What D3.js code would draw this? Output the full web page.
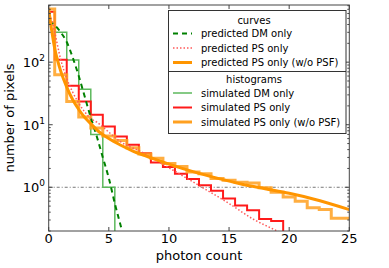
<!DOCTYPE html>
<html>
<head>
<meta charset="utf-8">
<script src="https://cdn.jsdelivr.net/npm/d3@7"></script>
<style>
  body { margin: 0; background: #fff; }
  text { font-family: "DejaVu Sans", sans-serif; fill: #000; }
</style>
</head>
<body>
<svg id="chart" width="389" height="268"></svg>
<script>
// histogram counts, one value per bin centred on 0,1,2,...
const greenHist = [430, 300, 108, 37, 7, 1, 0];
const redHist = [640, 109, 42, 23.5, 14.4, 9.4, 6.5, 4.8, 3.5, 2.5, 2.1, 1.65, 1.35, 1.08, 0.88, 0.66, 0.51, 0.43, 0.31, 0.29, 0];
const orangeHist = [710, 63, 23.5, 13.3, 8.9, 6.6, 5.6, 4.3, 3.4, 2.9, 2.4, 2.15, 1.75, 1.65, 1.38, 1.3, 1.2, 1.17, 0.98, 0.83, 0.70, 0.60, 0.47, 0.44, 0.32, 0.32];

// predicted curves
const dmX = [0, 0.5, 1, 1.5, 2, 2.5, 3, 3.5, 4, 4.5, 5, 5.5, 6.1, 6.6];
const dmY = [440, 390, 300, 210, 118, 60, 28, 13, 6.5, 3.0, 1.4, 0.55, 0.2, 0.08];
const psX = [0, 0.25, 0.5, 1, 1.5, 2, 2.5, 3, 3.5, 4, 5, 6, 7.6, 10, 12.6, 15, 17, 19, 20];
const psY = [650, 470, 300, 110, 55, 33, 22, 16, 12.5, 11, 7.6, 5.3, 3.76, 2.05, 1.04, 0.55, 0.31, 0.2, 0.16];
const nopsfX = [0, 0.25, 0.5, 0.75, 1, 1.5, 2, 2.5, 3, 3.5, 4, 5, 6, 7, 8, 10, 12, 14, 16, 18, 20, 22, 25];
const nopsfY = [700, 320, 165, 105, 72, 40, 25, 17.5, 13, 10.4, 8.3, 6.0, 4.7, 3.8, 3.2, 2.35, 1.78, 1.4, 1.13, 0.95, 0.8, 0.65, 0.44];

const xTicks = [0, 5, 10, 15, 20, 25];
const yTicks = [1, 10, 100];

const svg = d3.select("#chart");
const l_left = 48.7, l_right = 349.3, l_top = 5, l_bottom = 231;

const x = d3.scaleLinear().domain([0, 25]).range([l_left, l_right]);
const y = d3.scaleLog().domain([0.2, 820]).range([l_bottom, l_top]).clamp(false);

svg.append("clipPath").attr("id", "plot")
  .append("rect")
    .attr("x", l_left).attr("y", l_top)
    .attr("width", l_right - l_left).attr("height", l_bottom - l_top);

const g = svg.append("g").attr("clip-path", "url(#plot)");

// y = 1 reference line
g.append("line")
    .attr("x1", l_left).attr("x2", l_right)
    .attr("y1", y(1)).attr("y2", y(1))
    .attr("stroke", "#555").attr("stroke-width", 0.8)
    .attr("stroke-dasharray", "3,2,1,2");

function histPath(vals) {
  const pts = vals.map((v, i) => [i - 0.5, v]);
  pts.push([vals.length - 0.5, vals[vals.length - 1]]);
  return d3.line()
      .x(d => x(d[0]))
      .y(d => d[1] > 0 ? y(d[1]) : l_bottom + 20)
      .curve(d3.curveStepAfter)(pts);
}

function curvePath(xs, ys) {
  return d3.line()
      .x(d => x(d[0]))
      .y(d => y(d[1]))
      .curve(d3.curveMonotoneX)(xs.map((v, i) => [v, ys[i]]));
}

g.append("path").attr("d", histPath(greenHist))
    .attr("fill", "none").attr("stroke", "#5cb85c").attr("stroke-width", 1.5);
g.append("path").attr("d", histPath(redHist))
    .attr("fill", "none").attr("stroke", "#ff1a1a").attr("stroke-width", 2);
g.append("path").attr("d", histPath(orangeHist))
    .attr("fill", "none").attr("stroke", "#ffa020").attr("stroke-width", 3).attr("opacity", 0.85);

g.append("path").attr("d", curvePath(dmX, dmY))
    .attr("fill", "none").attr("stroke", "#008000").attr("stroke-width", 2)
    .attr("stroke-dasharray", "5,4");
g.append("path").attr("d", curvePath(psX, psY))
    .attr("fill", "none").attr("stroke", "#ff5a5a").attr("stroke-width", 1.5)
    .attr("stroke-dasharray", "1.5,2");
g.append("path").attr("d", curvePath(nopsfX, nopsfY))
    .attr("fill", "none").attr("stroke", "#ff9500").attr("stroke-width", 3);

// frame and ticks (inward, on all four sides)
const frame = svg.append("g").attr("stroke", "#444").attr("stroke-width", 1);
frame.append("rect")
    .attr("x", l_left).attr("y", l_top)
    .attr("width", l_right - l_left).attr("height", l_bottom - l_top)
    .attr("fill", "none");

xTicks.forEach(t => {
  frame.append("line").attr("x1", x(t)).attr("x2", x(t)).attr("y1", l_bottom).attr("y2", l_bottom - 4);
  frame.append("line").attr("x1", x(t)).attr("x2", x(t)).attr("y1", l_top).attr("y2", l_top + 4);
  svg.append("text").attr("x", x(t)).attr("y", 243)
      .attr("text-anchor", "middle").attr("font-size", 13).text(t);
});

const minor = [];
[0.1, 1, 10, 100].forEach(d => { for (let k = 2; k <= 9; k++) minor.push(d * k); });
minor.filter(v => v >= 0.2 && v <= 820).forEach(v => {
  frame.append("line").attr("x1", l_left).attr("x2", l_left + 2).attr("y1", y(v)).attr("y2", y(v));
  frame.append("line").attr("x1", l_right).attr("x2", l_right - 2).attr("y1", y(v)).attr("y2", y(v));
});

yTicks.forEach(t => {
  frame.append("line").attr("x1", l_left).attr("x2", l_left + 4).attr("y1", y(t)).attr("y2", y(t));
  frame.append("line").attr("x1", l_right).attr("x2", l_right - 4).attr("y1", y(t)).attr("y2", y(t));
  const lab = svg.append("text").attr("x", 45).attr("y", y(t) + 5)
      .attr("text-anchor", "end").attr("font-size", 13);
  lab.append("tspan").text("10");
  lab.append("tspan").attr("font-size", 9).attr("dy", -6).text(Math.round(Math.log10(t)));
});

svg.append("text").attr("x", (l_left + l_right) / 2).attr("y", 260)
    .attr("text-anchor", "middle").attr("font-size", 13).text("photon count");
svg.append("text")
    .attr("transform", "translate(14," + ((l_top + l_bottom) / 2) + ") rotate(-90)")
    .attr("text-anchor", "middle").attr("font-size", 13).text("number of pixels");

// legend
const legendRows = [
  { title: "curves" },
  { label: "predicted DM only", color: "#008000", width: 2, dash: "5,4" },
  { label: "predicted PS only", color: "#ff5a5a", width: 1.5, dash: "1.5,2" },
  { label: "predicted PS only (w/o PSF)", color: "#ff9500", width: 3, dash: null },
  { title: "histograms" },
  { label: "simulated DM only", color: "#5cb85c", width: 1.5, dash: null },
  { label: "simulated PS only", color: "#ff1a1a", width: 2, dash: null },
  { label: "simulated PS only (w/o PSF)", color: "#ffa020", width: 3, dash: null }
];
const lg = svg.append("g");
lg.append("rect").attr("x", 168.5).attr("y", 10.5).attr("width", 177.5).attr("height", 123)
    .attr("fill", "#fff").attr("stroke", "#333").attr("stroke-width", 1);
lg.append("line").attr("x1", 168.5).attr("x2", 346).attr("y1", 71.5).attr("y2", 71.5)
    .attr("stroke", "#333").attr("stroke-width", 1);

const rowY = [20, 33.5, 48, 62.5, 79, 93, 107.5, 122];
legendRows.forEach((r, i) => {
  const cy = rowY[i];
  if (r.title) {
    lg.append("text").attr("x", 254).attr("y", cy + 3.5)
        .attr("text-anchor", "middle").attr("font-size", 10).text(r.title);
    return;
  }
  lg.append("line").attr("x1", 173).attr("x2", 192).attr("y1", cy).attr("y2", cy)
      .attr("stroke", r.color).attr("stroke-width", r.width)
      .attr("stroke-dasharray", r.dash);
  lg.append("text").attr("x", 201).attr("y", cy + 3.5)
      .attr("font-size", 10).text(r.label);
});
</script>
</body>
</html>
